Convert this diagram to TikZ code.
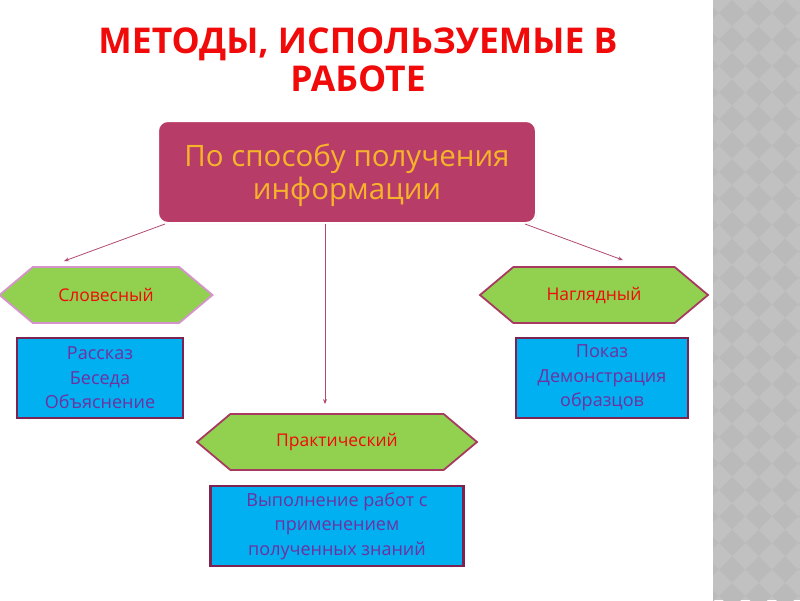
\documentclass[tikz,border=0pt]{standalone}
\usepackage{fontspec}
\setmainfont{Open Sans}
\usetikzlibrary{positioning,shapes.symbols,shadows,arrows.meta}

\definecolor{titlered}{HTML}{F00A0A}
\definecolor{boxrose}{HTML}{B83C68}
\definecolor{boxgold}{HTML}{F6B42A}
\definecolor{hexgreen}{HTML}{92D050}
\definecolor{hexrim}{HTML}{A83A62}
\definecolor{hexpink}{HTML}{D593CC}
\definecolor{listblue}{HTML}{00B0F0}
\definecolor{listrim}{HTML}{7D2352}
\definecolor{listtext}{HTML}{7030A0}
\definecolor{linkrose}{HTML}{B04A72}
\definecolor{stripgray}{HTML}{C1C1C1}
\definecolor{stripdark}{HTML}{BABABA}

\begin{document}
\begin{tikzpicture}[
  x=1pt, y=-1pt,
  link/.style={-{Stealth[length=5pt,width=4pt]}, draw=linkrose, line width=0.8pt},
  method/.style={signal, signal to=east and west, signal pointer angle=80,
    fill=hexgreen, draw=hexrim, line width=1.8pt, text=titlered,
    font=\fontsize{17.5}{20}\selectfont, minimum height=56pt},
  list/.style={rectangle, fill=listblue, draw=listrim, line width=2.4pt,
    text=listtext, align=center, font=\fontsize{18}{24.5}\selectfont,
    minimum height=80pt, inner sep=2pt}
]
\useasboundingbox (0,0) rectangle (800,600);

% side strip
\fill[stripgray] (713,0) rectangle (800,600);
\begin{scope}
  \clip (713,0) rectangle (800,600);
  \foreach \i in {0,...,4}
    \foreach \j in {0,...,23}
      \fill[stripdark] (705.5+26.5*\i,-13.5+26.5*\j) +(0,-13) -- +(13,0) -- +(0,13) -- +(-13,0) -- cycle;
\end{scope}

\node (title) at (358,60) [align=center, text=titlered,
  font=\fontsize{35.5}{38}\selectfont\bfseries] {МЕТОДЫ, ИСПОЛЬЗУЕМЫЕ В\\РАБОТЕ};

\node (info) at (347,172) [rectangle, rounded corners=10pt, minimum width=378pt,
  minimum height=102pt, text depth=0pt, fill=boxrose, draw=white, line width=2pt,
  drop shadow={opacity=0.25, shadow xshift=1pt, shadow yshift=-1pt},
  text=boxgold, align=center, font=\fontsize{29.5}{33}\selectfont] {По способу получения\\информации};

\node (verbal)    at (106,295) [method, draw=hexpink, minimum width=213pt] {Словесный};
\node (visual)    at (594,295) [method, minimum width=228pt] {Наглядный};
\node (practical) at (337,442) [method, minimum width=280pt] {Практический};

\node (verbal-list) [list, below=13pt of verbal, xshift=-6pt, minimum width=166pt]
  {Рассказ\\Беседа\\Объяснение};
\node (visual-list) [list, below=13pt of visual, xshift=8pt, minimum width=172pt]
  {Показ\\Демонстрация\\образцов};
\node (practical-list) [list, below=14pt of practical, minimum width=253pt]
  {Выполнение работ с\\применением\\полученных знаний};

\coordinate (verbal-end)    at ([xshift=-42pt,yshift=5pt]verbal.north);
\coordinate (visual-end)    at ([xshift=29pt,yshift=6pt]visual.north);
\coordinate (practical-end) at ([xshift=-12pt,yshift=9pt]practical.north);

\draw[link] ([xshift=8pt]info.south west) -- (verbal-end);
\draw[link] ([xshift=-12pt]info.south east) -- (visual-end);
\draw[link] ([xshift=-22pt]info.south) -- (practical-end);

\end{tikzpicture}
\end{document}
